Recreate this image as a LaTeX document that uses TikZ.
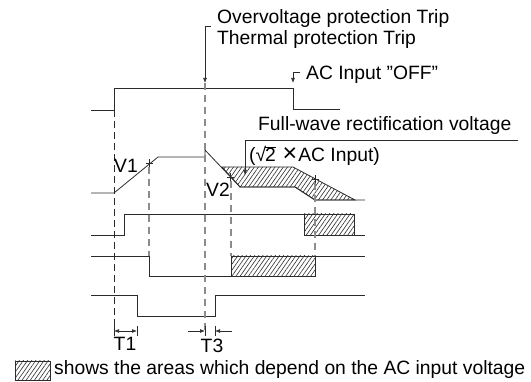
\documentclass[tikz,border=0pt]{standalone}
\usepackage{fontspec}
\setmainfont{Liberation Sans}
\usepackage{tikz}
\usetikzlibrary{arrows.meta,positioning,patterns.meta,calc}
\definecolor{LineDark}{HTML}{2B2B2B}
\definecolor{GuideGray}{HTML}{8C8C8C}

\begin{document}
\begin{tikzpicture}[x=1pt, y=-1pt,
    font=\fontsize{19.3}{21}\selectfont,
    wave/.style={draw=LineDark, line width=0.8pt},
    hatchbox/.style={draw=LineDark, line width=0.8pt, pattern={Lines[angle=55,distance=3.4pt,line width=0.6pt]}, pattern color=LineDark},
    guide/.style={draw=GuideGray, line width=1.2pt, dash pattern=on 7pt off 5pt},
    cursor/.style={draw=LineDark, line width=0.6pt, dash pattern=on 7pt off 4pt},
    arr/.style={-{Latex[length=5pt,width=3.8pt]}, line width=0.6pt, draw=LineDark},
    dimarr/.style={{Latex[length=5pt,width=3.8pt]}-{Latex[length=5pt,width=3.8pt]}, line width=0.6pt, draw=LineDark},
    lbl/.style={inner sep=0pt, anchor=west}
]
\useasboundingbox (0,0) rectangle (531,382);

% hatched areas
\draw[hatchbox] (222,167) -- (293,167) -- (355,200) -- (315,200) -- (295,187) -- (240,187) -- cycle;
\draw[hatchbox] (304,214) rectangle (354,235);
\draw[hatchbox] (231,256) rectangle (315,276);

% waveforms
\draw[wave] (91,110) -- (114,110) -- (114,88) -- (293,88) -- (293,109) -- (340,109);
\draw[wave] (91,193) -- (114,193) -- (158,157) -- (205,157) -- (205,150) -- (240,187) -- (295,187) -- (315,200) -- (365,200);
\draw[wave] (91,235) -- (124,235) -- (124,214) -- (304,214);
\draw[wave] (304,235) -- (365,235);
\draw[wave] (91,256) -- (149,256) -- (149,276) -- (231,276);
\draw[wave] (315,256) -- (365,256);
\draw[wave] (91,295) -- (137,295) -- (137,316) -- (215,316) -- (215,295) -- (365,295);

% guide lines
\coordinate (tripend) at (205,83);
\coordinate (offend) at (293,83);
\draw[cursor] (114,110) -- (114,335);
\draw[guide] (149,167) -- (149,256);
\draw[guide] (tripend) -- (205,335);
\draw[guide] (231,181) -- (231,256);
\draw[guide] (315,183) -- (315,256);

% tick marks
\foreach \px/\py in {149/163, 230/177, 315/179}
  \draw[wave, line width=0.6pt] (\px-3.5,\py) -- (\px+3.5,\py) (\px,\py-4) -- (\px,\py+4);

% labels
\node[lbl, align=left] (trip) at (217,29) {Overvoltage protection Trip\\Thermal protection Trip};
\node[lbl] (acoff) at (306,75) {AC Input ”OFF”};
\node[lbl] (fullw) at (258,126) {Full-wave rectification voltage};
\node[lbl] (sqrtl) at (249,156) {(√\kern-1pt\rlap{\rule[13.6pt]{10.6pt}{0.7pt}}2\hspace{0.35em}{\fontsize{25}{25}\selectfont ×}\kern1pt AC Input)};
\node (v1) at (126,166) {V1};
\node (v2) at (218,190) {V2};
\node (t1) at (125,344) {T1};
\node (t3) at (212,346) {T3};

\draw[arr] ([xshift=-6pt,yshift=3pt]trip.west) -| (tripend);
\draw[arr] ([xshift=-6pt,yshift=3pt]acoff.west) -| (offend);
\coordinate (fwend) at (518,140);
\coordinate (fwtip) at (245,175);
\draw[arr] (fwend) -| (fwtip);

% time intervals
\coordinate (t1a) at (114,331);
\coordinate (t1b) at (137,331);
\coordinate (t3a) at (205,331);
\coordinate (t3b) at (215,331);
\draw[dimarr] (t1a) -- (t1b);
\draw[arr] (188,331) -- (t3a);
\draw[arr] (232,331) -- (t3b);
\foreach \tx in {114,137,205,215}
  \draw[wave, line width=0.6pt] (\tx,326) -- (\tx,336);

% legend
\draw[hatchbox] (15,361) rectangle (50,380);
\node[lbl] (legend) at (54,370) {shows the areas which depend on the AC input voltage};
\end{tikzpicture}
\end{document}
